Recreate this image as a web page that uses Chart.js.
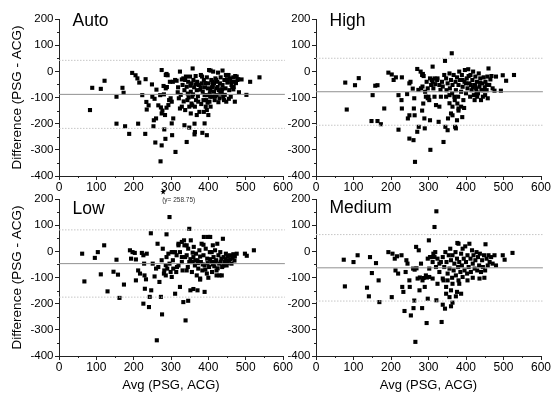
<!DOCTYPE html>
<html>
<head>
<meta charset="utf-8">
<script src="https://cdn.jsdelivr.net/npm/chart.js@4.4.0/dist/chart.umd.min.js"></script>
<style>
  body { margin: 0; background: #fff; }
  #wrap { position: relative; width: 552px; height: 398px; overflow: hidden; }
  canvas { position: absolute; }
</style>
</head>
<body>
<div id="wrap">
  <canvas id="auto" width="300" height="200" style="left:0;top:0"></canvas>
  <canvas id="high" width="276" height="200" style="left:276px;top:0"></canvas>
  <canvas id="low" width="300" height="218" style="left:0;top:180px"></canvas>
  <canvas id="medium" width="276" height="218" style="left:276px;top:180px"></canvas>
</div>
<script>
// Bland-Altman data, [avg, diff] per subject
var autoPts = [
  [83,-148],[89,-63],[112,-67],[122,-36],[154,-97],[170,-63],[173,-82],[154,-200],[177,-210],[188,-239],[196,-6],[205,-15],
  [210,-27],[215,-43],[212,-200],[223,-91],[232,-30],[234,-117],[235,-146],[231,-239],[240,-130],[249,-50],[250,-97],[254,-187],
  [253,-210],[256,-105],[258,-272],[261,-70],[260,-180],[266,-130],[272,-344],[275,-283],[277,-150],[282,-222],[285,-258],[289,-60],
  [291,-15],[275,5],[286,-14],[288,-10],[280,-56],[286,-65],[281,-88],[297,-40],[295,-110],[299,-103],[302,-116],[293,-129],
  [288,-139],[284,-167],[275,-161],[273,-138],[271,-91],[305,-40],[311,-33],[306,-180],[302,-199],[303,-244],[312,-308],[315,-36],
  [319,-61],[324,-1],[324,-142],[321,-103],[329,-31],[333,-27],[331,-52],[338,-33],[336,-72],[340,-20],[342,-59],[344,-110],
  [346,-40],[349,-135],[351,-20],[353,-78],[355,-46],[358,11],[357,-97],[360,-33],[362,-61],[364,-135],[366,-18],[369,-72],
  [370,-40],[373,-116],[375,-52],[376,-155],[336,-206],[342,-270],[349,-215],[363,-200],[364,-232],[363,-241],[329,-135],[338,-148],
  [353,-161],[369,-167],[355,-123],[380,-14],[382,-46],[385,-78],[387,-110],[388,-33],[391,-61],[393,-135],[396,-23],[397,-91],
  [400,-46],[402,5],[403,-116],[405,-72],[406,3],[408,-33],[410,-97],[412,-52],[413,-1],[415,-78],[417,-110],[419,-27],
  [421,-65],[422,-91],[424,-40],[426,-5],[428,-72],[430,-103],[396,-148],[400,-167],[384,-235],[390,-199],[396,-244],[388,-155],
  [406,-135],[394,-110],[383,-20],[410,-61],[415,-46],[421,-33],[399,-65],[405,-97],[380,-61],[390,-91],[431,-46],[433,-23],
  [436,-82],[438,-52],[440,-97],[443,-33],[446,-65],[448,-116],[451,-43],[454,-14],[456,-72],[458,-27],[462,-52],[464,-61],
  [467,-23],[470,-40],[472,-18],[476,-20],[478,-33],[482,-80],[471,-116],[467,-69],[460,-97],[502,-90],[489,-31],[512,-40],
  [537,-23],[438,3],[447,-14],[345,-85],[352,-55],[359,-88],[366,-50],[372,-95],[378,-70],[392,-45],[398,-120],[404,-85],
  [411,-40],[418,-95],[425,-60],[432,-85],[437,-68],[444,-90],[450,-30],[455,-105],[461,-40],[468,-60],[474,-45],[480,-30],
  [318,-80],[326,-90],[334,-115],[347,-100],[357,-130],[367,-110],[381,-125],[427,-118],[442,-110]
];
var highPts = [
  [78,-43],[104,-53],[114,-26],[82,-146],[151,-91],[158,-55],[164,-53],[148,-190],[164,-190],[173,-202],[182,-142],[193,-5],
  [202,-12],[207,-33],[213,-23],[229,-23],[220,-91],[228,-110],[229,-142],[220,-223],[243,-87],[245,-180],[249,-168],[249,-46],
  [252,-40],[249,-257],[260,-263],[258,-66],[262,-103],[261,-142],[263,-168],[264,-346],[270,9],[273,-71],[270,-231],[274,-212],
  [279,-1],[280,-65],[283,-14],[284,-58],[283,-150],[286,-123],[289,-180],[290,-218],[293,-97],[298,-103],[302,-110],[304,-187],
  [305,-300],[311,18],[309,-33],[313,-65],[316,-97],[320,-129],[324,-27],[327,-193],[329,-135],[332,-71],[338,-58],[340,-270],
  [344,40],[345,-212],[347,-97],[351,-225],[352,-180],[356,-122],[360,-161],[362,69],[364,-168],[369,-97],[371,-212],[373,-218],
  [376,-187],[380,-150],[387,-135],[342,-14],[347,-27],[351,-46],[356,-8],[357,-65],[360,-33],[363,-84],[364,-52],[367,-14],
  [370,-110],[372,-40],[373,-72],[376,-23],[379,-97],[380,-52],[382,-1],[384,-33],[387,-78],[389,-14],[391,-59],[393,-110],
  [396,-40],[397,5],[400,-84],[402,-27],[404,-65],[406,8],[409,-46],[411,-97],[412,-14],[415,-72],[417,-33],[419,-1],
  [421,-91],[424,-52],[425,-20],[427,-65],[429,-40],[432,-84],[434,-8],[436,-59],[438,-27],[441,-72],[443,-46],[445,-97],
  [447,-23],[450,-61],[452,-40],[455,-72],[457,-20],[460,11],[462,-52],[465,-31],[468,-18],[471,-65],[476,-74],[480,-20],
  [493,-74],[498,-15],[507,-36],[528,-14],[423,-110],[430,-97],[413,-52],[391,-33],[377,-123],[380,-142],[364,-135],[356,-91],
  [348,-72],[336,-40],[333,-97],[329,-52],[323,-33],[318,-49],[316,-27],[311,-40],[307,-52],[304,-27],[300,-97],[298,-65],
  [295,-40],[291,-78],[458,-103],[440,-110],[451,-91],[400,-46],[407,-18],[418,-61],[428,-78],[437,-44],[446,-72],[455,-52],
  [427,-91],[287,-18],[285,-10],[390,-175],[395,-140]
];
var lowPts = [
  [62,-9],[68,-115],[96,-25],[104,-3],[112,-88],[121,23],[130,-153],[146,-78],[154,-32],[158,-89],[162,-178],[174,-127],
  [190,4],[193,-28],[197,-3],[203,-6],[206,-31],[206,-111],[212,-73],[217,-85],[222,-6],[226,-15],[228,-47],[229,-92],
  [233,-107],[226,-200],[230,-143],[235,-9],[241,-213],[243,-174],[246,69],[247,-149],[251,-47],[256,-96],[260,-66],[262,-340],
  [264,29],[266,-60],[269,-117],[273,-174],[275,-34],[278,10],[276,-241],[281,-85],[286,-53],[288,65],[290,-66],[293,-9],
  [296,131],[302,-98],[305,-34],[306,-3],[311,-162],[314,-79],[316,-60],[320,23],[324,-136],[329,-22],[333,-194],[336,23],
  [339,-264],[342,-73],[346,-189],[349,86],[352,-149],[356,-79],[360,-22],[361,17],[364,-54],[367,-9],[369,-92],[371,-34],
  [373,-66],[376,4],[378,-104],[380,-41],[382,29],[384,-73],[387,-15],[388,55],[390,-54],[393,10],[396,-85],[397,-28],
  [399,55],[402,-60],[404,-3],[405,55],[408,-41],[410,-79],[412,23],[414,-22],[416,-57],[418,4],[421,-34],[422,-73],
  [424,29],[427,-15],[429,-47],[430,-92],[432,-3],[435,-28],[437,-60],[439,48],[441,-22],[444,-41],[447,-9],[449,-54],
  [452,-19],[455,-34],[458,-15],[462,-47],[467,-11],[471,-19],[476,-9],[498,-9],[503,-17],[522,4],[342,-15],[346,10],
  [349,-41],[353,42],[329,-41],[331,-73],[324,-3],[320,-54],[315,-15],[311,-3],[306,-66],[302,-3],[299,-79],[296,-47],
  [288,-22],[286,-92],[282,-73],[342,23],[338,-22],[358,-41],[371,-149],[360,-144],[387,25],[400,-101],[409,-3],[422,-92],
  [436,-92],[390,-155],[378,-108],[320,29],[329,36],[335,42],[345,-60],[352,-30],[358,-5],[365,-35],[372,-45],[378,-20],
  [385,-50],[392,-70],[398,-45],[405,-30],[412,-50],[418,-40],[425,-65],[433,-40],[440,-55],[446,-30],[452,-45],[459,-30],
  [465,-25],[470,-35]
];
var mediumPts = [
  [74,-32],[77,-134],[100,-41],[111,-15],[136,-139],[141,-172],[144,-22],[149,-83],[160,-45],[167,-111],[169,-194],[193,-3],
  [202,-175],[204,-9],[210,-28],[212,-73],[216,-19],[219,-85],[228,-15],[230,-136],[233,-155],[236,-228],[239,-79],[241,-34],
  [244,-47],[249,-111],[250,-136],[253,-245],[259,-66],[260,-217],[262,-188],[265,-346],[267,17],[271,-104],[274,4],[276,-149],
  [280,-47],[283,-217],[284,-111],[290,-136],[293,-92],[295,-274],[298,-181],[301,42],[302,-98],[304,-22],[311,-104],[316,93],
  [318,-3],[321,153],[321,-187],[324,-124],[329,-47],[335,-270],[338,-204],[340,-111],[344,-219],[347,-162],[356,-175],[360,-210],
  [364,-196],[373,-172],[377,32],[382,-124],[387,-162],[338,-22],[342,-60],[345,-3],[348,-41],[351,-85],[354,-15],[356,-66],
  [358,10],[360,-34],[363,-101],[364,-15],[367,-73],[369,-47],[372,-3],[373,-92],[376,-28],[379,-60],[380,29],[382,-41],
  [385,-79],[387,-9],[389,-54],[391,10],[394,-28],[396,-73],[398,19],[400,-41],[403,-85],[404,-15],[407,-60],[409,29],
  [412,-28],[413,-79],[416,4],[418,-47],[420,-15],[423,-66],[425,-34],[428,-3],[430,-73],[432,-22],[435,-54],[437,-9],
  [440,-79],[443,-34],[445,-60],[448,-15],[451,-73],[452,27],[455,-28],[458,-54],[460,-15],[463,-41],[467,-22],[471,-47],
  [476,-15],[480,-54],[498,-15],[503,-32],[524,-6],[333,-41],[329,-79],[324,-28],[320,-60],[316,-22],[311,-41],[307,-22],
  [302,-66],[298,-28],[313,-9],[351,-111],[364,-124],[380,-111],[391,-98],[404,-111],[418,-101],[436,-104],[449,-101],[338,-104],
  [347,-136],[360,-149],[376,-155],[277,-100],[287,-102],[296,-100],[268,-65],[263,-70]
];

// [mean difference, upper limit, lower limit]
var autoLines = [-88, 42, -218];
var highLines = [-78, 50, -206];
var lowLines = [-47, 82, -175];
var mediumLines = [-63, 64, -190];

var xTicks = [0, 100, 200, 300, 400, 500, 600];
var yTicks = [-400, -300, -200, -100, 0, 100, 200];
var lineSpan = [0, 605];

var FONT = "'Liberation Sans', Arial, sans-serif";

// small ticks at the half steps
var minorTicks = {
  id: 'minorTicks',
  afterDraw: function (chart) {
    var ctx = chart.ctx, xs = chart.scales.x, ys = chart.scales.y, a = chart.chartArea;
    ctx.save();
    ctx.strokeStyle = '#222';
    ctx.lineWidth = 1;
    ctx.beginPath();
    for (var i = 0; i < xTicks.length - 1; i++) {
      var px = Math.round(xs.getPixelForValue((xTicks[i] + xTicks[i + 1]) / 2)) + 0.5;
      ctx.moveTo(px, a.bottom);
      ctx.lineTo(px, a.bottom + 2);
    }
    for (var j = 0; j < yTicks.length - 1; j++) {
      var py = Math.round(ys.getPixelForValue((yTicks[j] + yTicks[j + 1]) / 2)) + 0.5;
      ctx.moveTo(a.left, py);
      ctx.lineTo(a.left - 2, py);
    }
    ctx.stroke();
    ctx.restore();
  }
};

// panel name in the upper left corner
var panelName = {
  id: 'panelName',
  afterDraw: function (chart, args, opts) {
    var ctx = chart.ctx, a = chart.chartArea;
    ctx.save();
    ctx.fillStyle = '#000';
    ctx.font = '17.5px ' + FONT;
    ctx.textBaseline = 'alphabetic';
    ctx.fillText(opts.text, a.left + 13.5, a.top + opts.dy);
    if (opts.note) {
      // off-scale point marker
      var sx = chart.scales.x.getPixelForValue(opts.note.x);
      var sy = a.top - 7;
      ctx.beginPath();
      for (var k = 0; k < 10; k++) {
        var r = k % 2 ? 1.2 : 3;
        var ang = -Math.PI / 2 + k * Math.PI / 5;
        ctx.lineTo(sx + r * Math.cos(ang), sy + r * Math.sin(ang));
      }
      ctx.closePath();
      ctx.fill();
      ctx.font = '6.5px ' + FONT;
      ctx.textBaseline = 'middle';
      ctx.fillStyle = '#333';
      ctx.fillText(opts.note.label, sx - 1, a.top + 1);
    }
    ctx.restore();
  }
};

function makePanel(id, name, pts, lines, o) {
  var span = function (v) {
    return [{ x: lineSpan[0], y: v }, { x: lineSpan[1], y: v }];
  };
  var config = {
    type: 'scatter',
    data: {
      datasets: [
        { data: span(lines[0]), showLine: true, borderColor: '#909090', borderWidth: 1, pointRadius: 0, clip: false },
        { data: span(lines[1]), showLine: true, borderColor: '#c6c6c6', borderWidth: 1, borderDash: [1.5, 1.5], pointRadius: 0, clip: false },
        { data: span(lines[2]), showLine: true, borderColor: '#c6c6c6', borderWidth: 1, borderDash: [1.5, 1.5], pointRadius: 0, clip: false },
        {
          data: pts.map(function (p) { return { x: p[0], y: p[1] }; }),
          pointStyle: 'rect', pointRadius: 2.9, pointBorderWidth: 0,
          backgroundColor: '#000', borderColor: '#000'
        }
      ]
    },
    options: {
      responsive: false,
      animation: false,
      layout: { padding: { top: 19, right: o.padR, left: 0, bottom: 0 } },
      plugins: {
        legend: { display: false },
        tooltip: { enabled: false },
        panelName: { text: name, dy: o.dy, note: o.note }
      },
      scales: {
        x: {
          type: 'linear', min: 0, max: 600,
          afterBuildTicks: function (s) { s.ticks = xTicks.map(function (v) { return { value: v }; }); },
          afterFit: function (s) { s.height = o.xH; },
          ticks: { autoSkip: false, maxRotation: 0, padding: 0, color: '#000', font: { size: 12, family: FONT } },
          grid: { drawOnChartArea: false, drawTicks: true, tickLength: 4, tickColor: '#222' },
          border: { color: '#222', width: 1 },
          title: { display: o.xTitle, text: 'Avg (PSG, ACG)', color: '#000', font: { size: 13, family: FONT }, padding: { top: 0, bottom: 5 } }
        },
        y: {
          type: 'linear', min: -400, max: 200,
          afterBuildTicks: function (s) { s.ticks = yTicks.map(function (v) { return { value: v }; }); },
          afterFit: function (s) { s.width = o.yW; },
          ticks: { padding: 1.5, color: '#000', font: { size: 11.5, family: FONT } },
          grid: { drawOnChartArea: false, drawTicks: true, tickLength: 4, tickColor: '#222' },
          border: { color: '#222', width: 1 },
          title: { display: o.yTitle, text: 'Difference (PSG - ACG)', color: '#000', font: { size: 13.5, family: FONT }, padding: { top: 9.5, bottom: 0 } }
        }
      }
    },
    plugins: [minorTicks, panelName]
  };
  return new Chart(document.getElementById(id), config);
}

makePanel('auto', 'Auto', autoPts, autoLines, { yW: 59, padR: 17, xH: 24, yTitle: true, xTitle: false, dy: 7 });
makePanel('high', 'High', highPts, highLines, { yW: 40, padR: 11, xH: 24, yTitle: false, xTitle: false, dy: 7 });
makePanel('low', 'Low', lowPts, lowLines, { yW: 59, padR: 17, xH: 42, yTitle: true, xTitle: true, dy: 15,
  note: { x: 279, label: '(y= 258.75)' } });
makePanel('medium', 'Medium', mediumPts, mediumLines, { yW: 40, padR: 11, xH: 42, yTitle: false, xTitle: true, dy: 14 });
</script>
</body>
</html>
